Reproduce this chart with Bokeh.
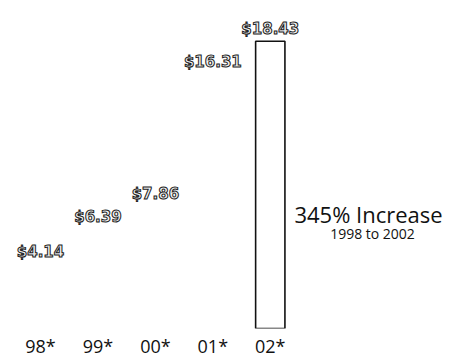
import numpy as np
from bokeh.plotting import figure
from bokeh.models import ColumnDataSource, Range1d, FixedTicker, Label
from bokeh.core.properties import value
from bokeh.embed import file_html
from bokeh.resources import INLINE

years = ["98*", "99*", "00*", "01*", "02*"]
values = [4.14, 6.39, 7.86, 16.31, 18.43]
value_labels = ["$4.14", "$6.39", "$7.86", "$16.31", "$18.43"]
headline = "345% Increase"
subline = "1998 to 2002"

xs = list(range(len(years)))
src = ColumnDataSource(dict(x=xs, top=values, label=value_labels))
last = ColumnDataSource(dict(x=xs[-1:], top=values[-1:]))

p = figure(width=462, height=360, output_backend="svg", toolbar_location=None,
           x_range=Range1d(-0.696, 7.346), y_range=Range1d(0, 21.04),
           min_border_left=0, min_border_right=0, min_border_top=0, min_border_bottom=29,
           background_fill_color="white", border_fill_color="white")
p.outline_line_color = None
p.grid.visible = False
p.yaxis.visible = False

# invisible (white) bars for the earlier years, outlined bar for the last one
p.vbar(x="x", top="top", width=0.51, bottom=0, source=src,
       fill_color="white", line_color=None)
p.vbar(x="x", top="top", width=0.51, bottom=0, source=last,
       fill_color="white", line_color="#111111", line_width=1.6)

p.text(x="x", y="top", text="label", source=src, text_align="center",
       text_baseline="bottom", y_offset=-3,
       text_font=value("DejaVu Sans"), text_font_style="bold", text_font_size="15px",
       text_color="#f2f2f2", text_outline_color="#222222")

ax = p.xaxis[0]
ax.ticker = FixedTicker(ticks=xs)
ax.major_label_overrides = {i: y for i, y in zip(xs, years)}
ax.axis_line_color = None
ax.major_tick_line_color = None
ax.minor_tick_line_color = None
ax.major_tick_out = 0
ax.major_tick_in = 0
ax.minor_tick_out = 0
ax.minor_tick_in = 0
ax.major_label_text_font = "Open Sans"
ax.major_label_text_font_size = "18px"
ax.major_label_text_line_height = 1.0
ax.major_label_text_color = "#111111"
ax.major_label_standoff = 5

# screen units are measured from the frame's bottom-left corner
p.add_layout(Label(x=368, y=115, x_units="screen", y_units="screen",
                   text=headline, text_align="center", text_baseline="middle",
                   text_font="Open Sans", text_font_size="22px", text_color="#111111"))
p.add_layout(Label(x=372, y=95, x_units="screen", y_units="screen",
                   text=subline, text_align="center", text_baseline="middle",
                   text_font="Open Sans", text_font_size="14px", text_color="#111111"))

open("out.html", "w").write(file_html(p, INLINE))
